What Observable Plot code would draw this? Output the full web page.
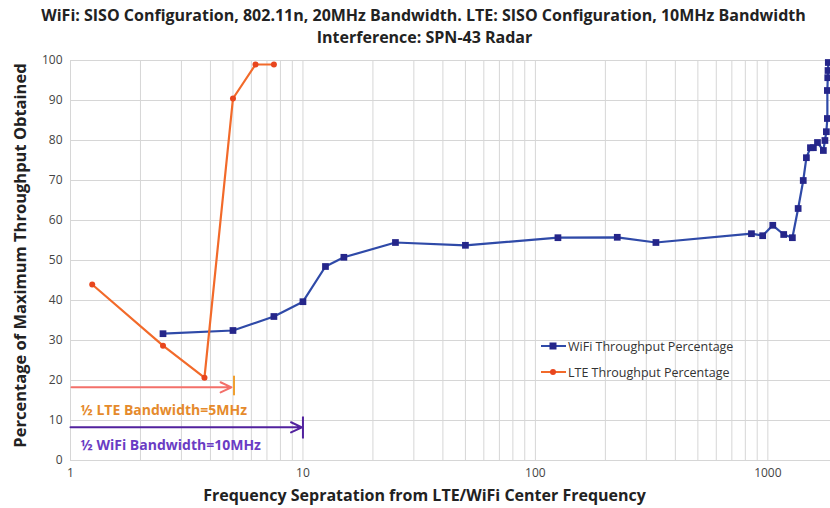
<!DOCTYPE html>
<html>
<head>
<meta charset="utf-8">
<script src="https://cdn.jsdelivr.net/npm/d3@7"></script>
<script src="https://cdn.jsdelivr.net/npm/@observablehq/plot@0.6"></script>
<style>
  html, body { margin: 0; padding: 0; background: #fff; }
  #wrap { position: relative; width: 830px; height: 508px; font-family: "Open Sans", Lato, sans-serif; }
  #legend { position: absolute; left: 540px; top: 333px; font-size: 12.5px; color: #333; }
  #legend .row { display: flex; align-items: center; height: 26px; }
  #legend svg { margin-right: 1px; }
</style>
</head>
<body>
<div id="wrap"></div>
<script>
// Frequency separation (MHz) and throughput (% of maximum) per technology
const wifiFreq = [2.5, 5, 7.5, 10, 12.5, 15, 25, 50, 125, 225, 330, 850, 950, 1050, 1170, 1275, 1350, 1420, 1465, 1525, 1570, 1635, 1733, 1760, 1785, 1803, 1803, 1810, 1815, 1820];
const wifiPct  = [31.7, 32.5, 36, 39.7, 48.5, 50.8, 54.5, 53.8, 55.7, 55.8, 54.5, 56.7, 56.2, 58.8, 56.5, 55.7, 63, 70, 75.7, 78.2, 78.2, 79.5, 77.5, 80, 82.2, 85.5, 92.5, 95.7, 97.5, 99.5];
const lteFreq = [1.24, 2.5, 3.77, 5, 6.25, 7.5];
const ltePct  = [44, 28.7, 20.7, 90.5, 99, 99];

const seriesNames = ["WiFi Throughput Percentage", "LTE Throughput Percentage"];
const xTicks = [1, 10, 100, 1000];
const yTicks = [0, 10, 20, 30, 40, 50, 60, 70, 80, 90, 100];
const titleLines = [
  "WiFi: SISO Configuration, 802.11n, 20MHz Bandwidth. LTE: SISO Configuration, 10MHz Bandwidth",
  "Interference: SPN-43 Radar"
];
const xTitle = "Frequency Sepratation from LTE/WiFi Center Frequency";
const yTitle = "Percentage of Maximum Throughput Obtained";
const halfBandwidth = [
  {label: "½ LTE Bandwidth=5MHz", half: 5},
  {label: "½ WiFi Bandwidth=10MHz", half: 10}
];

const wifi = wifiFreq.map((f, i) => ({f, p: wifiPct[i]}));
const lte = lteFreq.map((f, i) => ({f, p: ltePct[i]}));

// log grid: 1..9 within each decade
const gridX = [];
for (let d = 1; d <= 1000; d *= 10) for (let k = 1; k <= 9; k++) if (k * d <= 1860) gridX.push(k * d);

const FONT = "'Open Sans', Lato, sans-serif";
const WIFI_LINE = "#2f4aa8", WIFI_MARK = "#25268a";
const LTE_LINE = "#f26a2a", LTE_MARK = "#e8461e";
const LTE_ARROW = "#f3706a", LTE_TICK = "#f0a030", LTE_TEXT = "#e58a2c";
const WIFI_ARROW = "#52229e", WIFI_TEXT = "#6a3cc4";

const [lteBw, wifiBw] = halfBandwidth;

const chart = Plot.plot({
  width: 830,
  height: 508,
  marginTop: 60,
  marginBottom: 48,
  marginLeft: 70,
  marginRight: 0,
  style: {fontFamily: FONT, background: "#fff"},
  x: {type: "log", domain: [1, 1860]},
  y: {domain: [0, 100]},
  marks: [
    Plot.ruleX(gridX, {stroke: "#d6d6d6", strokeWidth: 1}),
    Plot.ruleY(yTicks, {stroke: "#d6d6d6", strokeWidth: 1}),
    Plot.axisX({ticks: xTicks, tickSize: 0, tickPadding: 8, tickFormat: d => String(d), fontSize: 12, fill: "#444", label: null}),
    Plot.axisY({ticks: yTicks, tickSize: 0, tickPadding: 8, fontSize: 12, fill: "#444", label: null}),

    // half-bandwidth annotations
    Plot.arrow([lteBw], {x1: 1.01, x2: d => d.half * 0.985, y1: 18.3, y2: 18.3, stroke: LTE_ARROW, strokeWidth: 2, headLength: 9, headAngle: 50}),
    Plot.link([lteBw], {x1: d => d.half * 1.01, x2: d => d.half * 1.01, y1: 16.3, y2: 21.2, stroke: LTE_TICK, strokeWidth: 2}),
    Plot.text([lteBw], {x: 1.105, y: 12.4, text: "label", textAnchor: "start", fill: LTE_TEXT, fontWeight: "bold", fontSize: 14}),
    Plot.arrow([wifiBw], {x1: 1, x2: d => d.half * 0.99, y1: 8.3, y2: 8.3, stroke: WIFI_ARROW, strokeWidth: 2, headLength: 9, headAngle: 50}),
    Plot.link([wifiBw], {x1: d => d.half, x2: d => d.half, y1: 5.5, y2: 11, stroke: WIFI_ARROW, strokeWidth: 2}),
    Plot.text([wifiBw], {x: 1.105, y: 3.7, text: "label", textAnchor: "start", fill: WIFI_TEXT, fontWeight: "bold", fontSize: 14}),

    // series
    Plot.line(wifi, {x: "f", y: "p", stroke: WIFI_LINE, strokeWidth: 2.2}),
    Plot.dot(wifi, {x: "f", y: "p", symbol: "square", r: 3.8, fill: WIFI_MARK, stroke: "none"}),
    Plot.line(lte, {x: "f", y: "p", stroke: LTE_LINE, strokeWidth: 2.2}),
    Plot.dot(lte, {x: "f", y: "p", r: 3, fill: LTE_MARK, stroke: "none"}),

    // titles
    Plot.text([titleLines[0]], {frameAnchor: "top", textAnchor: "middle", lineAnchor: "middle", dx: -27, dy: -45, text: d => d, fontWeight: "bold", fontSize: 16, fill: "#222"}),
    Plot.text([titleLines[1]], {frameAnchor: "top", textAnchor: "middle", lineAnchor: "middle", dx: -26, dy: -23, text: d => d, fontWeight: "bold", fontSize: 16, fill: "#222"}),
    Plot.text([xTitle], {frameAnchor: "bottom", textAnchor: "middle", lineAnchor: "middle", dx: -26, dy: 35, text: d => d, fontWeight: "bold", fontSize: 16, fill: "#222"}),
    Plot.text([yTitle], {frameAnchor: "left", textAnchor: "middle", lineAnchor: "middle", dx: -50, dy: -5, rotate: -90, text: d => d, fontWeight: "bold", fontSize: 16.5, fill: "#222"})
  ]
});

const wrap = document.getElementById("wrap");
wrap.appendChild(chart);

// legend overlay
const legend = document.createElement("div");
legend.id = "legend";
const swatches = [
  `<svg width="27" height="10"><line x1="1" y1="5" x2="26" y2="5" stroke="${WIFI_LINE}" stroke-width="2"/><rect x="9.5" y="1.5" width="7" height="7" fill="${WIFI_MARK}"/></svg>`,
  `<svg width="27" height="10"><line x1="1" y1="5" x2="26" y2="5" stroke="${LTE_LINE}" stroke-width="2"/><circle cx="13" cy="5" r="3" fill="${LTE_MARK}"/></svg>`
];
seriesNames.forEach((name, i) => {
  const row = document.createElement("div");
  row.className = "row";
  row.innerHTML = swatches[i] + `<span>${name}</span>`;
  legend.appendChild(row);
});
wrap.appendChild(legend);
</script>
</body>
</html>
